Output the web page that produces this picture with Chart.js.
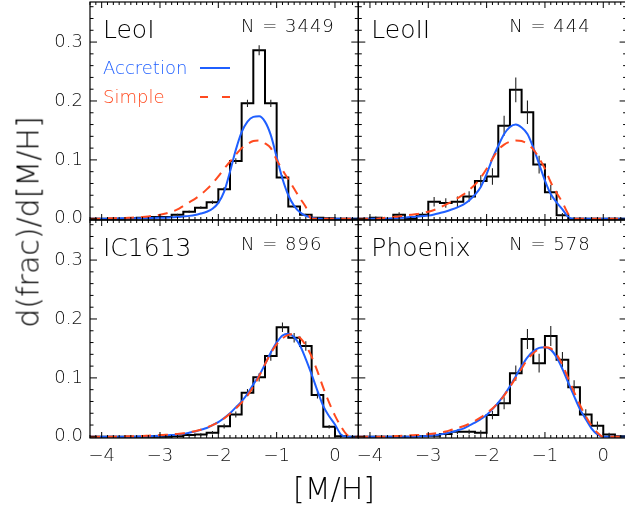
<!DOCTYPE html>
<html>
<head>
<meta charset="utf-8">
<script src="https://cdn.jsdelivr.net/npm/chart.js@4.4.1/dist/chart.umd.min.js"></script>
<style>
  html, body { margin: 0; padding: 0; background: #fff; overflow: hidden; }
  #wrap { position: relative; width: 625px; height: 508px; overflow: hidden; }
  #wrap canvas { position: absolute; left: 0; top: 0; }
  .title { position: absolute; font-family: "DejaVu Sans", sans-serif; font-weight: 200;
           font-size: 30px; color: #000; white-space: nowrap; }
  #ytitle { left: 28px; top: 222px; transform: translate(-50%, -50%) rotate(-90deg); }
  #xtitle { left: 334px; top: 488px; transform: translate(-50%, -50%); }
</style>
</head>
<body>
<div id="wrap">
  <canvas id="c0" width="640" height="508"></canvas>
  <canvas id="c1" width="640" height="508"></canvas>
  <canvas id="c2" width="640" height="508"></canvas>
  <canvas id="c3" width="640" height="508"></canvas>
  <div class="title" id="ytitle">d(frac)/d[M/H]</div>
  <div class="title" id="xtitle">[M/H]</div>
</div>
<script>
// bins (left edges, width 0.2 dex)
const binLo = [-4.2,-4.0,-3.8,-3.6,-3.4,-3.2,-3.0,-2.8,-2.6,-2.4,-2.2,-2.0,-1.8,-1.6,-1.4,-1.2,-1.0,-0.8,-0.6,-0.4,-0.2,0.0,0.2];
const binWidth = 0.2;

const leoIHist = [0,0,0,0.001,0.002,0.003,0.003,0.007,0.012,0.019,0.028,0.050,0.098,0.196,0.286,0.196,0.070,0.021,0.007,0.002,0.001,0,0];
const leoIErr  = [0,0,0,0.001,0.001,0.001,0.001,0.0015,0.002,0.0025,0.003,0.004,0.005,0.006,0.0085,0.006,0.004,0.0025,0.0015,0.001,0.0005,0,0];
const leoIIHist = [0,0.002,0,0.007,0,0.007,0.029,0.027,0.029,0.038,0.064,0.072,0.158,0.219,0.181,0.092,0.045,0.006,0,0,0,0,0];
const leoIIErr  = [0,0.002,0,0.004,0,0.004,0.008,0.008,0.009,0.009,0.010,0.014,0.017,0.021,0.020,0.015,0.013,0.004,0,0,0,0,0];
const ic1613Hist = [0,0,0,0,0,0,0,0.001,0.003,0.004,0.007,0.018,0.038,0.075,0.101,0.137,0.186,0.168,0.154,0.071,0.017,0.001,0];
const ic1613Err  = [0,0,0,0,0,0,0,0.001,0.0015,0.002,0.003,0.004,0.005,0.006,0.007,0.008,0.008,0.008,0.008,0.006,0.003,0.001,0];
const phoenixHist = [0,0,0,0,0,0.001,0.002,0.005,0.0085,0.0085,0.007,0.037,0.057,0.108,0.166,0.125,0.171,0.131,0.084,0.038,0.019,0.004,0.001];
const phoenixErr  = [0,0,0,0,0,0.001,0.002,0.003,0.004,0.004,0.004,0.007,0.010,0.013,0.017,0.016,0.017,0.013,0.012,0.009,0.007,0.003,0.001];

// model curves sampled every 0.1 dex
const modelX = [-4.2,-4.1,-4.0,-3.9,-3.8,-3.7,-3.6,-3.5,-3.4,-3.3,-3.2,-3.1,-3.0,-2.9,-2.8,-2.7,-2.6,-2.5,-2.4,-2.3,-2.2,-2.1,-2.0,-1.9,-1.8,-1.7,-1.6,-1.5,-1.4,-1.3,-1.2,-1.1,-1.0,-0.9,-0.8,-0.7,-0.6,-0.5,-0.4,-0.3,-0.2,-0.1,0.0,0.1,0.2,0.3,0.4];

const leoIAcc = [0,0,0,0,0.0005,0.0007,0.001,0.001,0.001,0.0012,0.0013,0.0015,0.0018,0.002,0.0025,0.003,0.004,0.005,0.0065,0.009,0.012,0.017,0.027,0.046,0.08,0.117,0.147,0.165,0.173,0.174,0.165,0.142,0.105,0.068,0.04,0.022,0.011,0.005,0.002,0.0005,0,0,0,0,0,0,0];
const leoISimple = [0,0,0.0005,0.0008,0.001,0.0012,0.0015,0.002,0.0025,0.003,0.004,0.0055,0.007,0.009,0.012,0.016,0.022,0.028,0.034,0.041,0.05,0.06,0.072,0.085,0.097,0.109,0.12,0.127,0.132,0.133,0.128,0.12,0.1,0.083,0.067,0.051,0.035,0.02,0,0,0,0,0,0,0,0,0];
const leoIIAcc = [0,0,0,0,0,0,0.001,0.0015,0.002,0.003,0.0035,0.0045,0.0056,0.0075,0.01,0.0125,0.0158,0.0195,0.024,0.031,0.041,0.054,0.076,0.102,0.124,0.144,0.156,0.16,0.155,0.144,0.121,0.093,0.065,0.042,0.028,0.016,0.003,0,0,0,0,0,0,0,0,0,0];
const leoIISimple = [0,0,0,0,0.001,0.002,0.003,0.004,0.0056,0.007,0.008,0.01,0.012,0.015,0.019,0.024,0.029,0.035,0.041,0.049,0.058,0.07,0.085,0.102,0.117,0.126,0.131,0.133,0.132,0.127,0.118,0.103,0.085,0.062,0.044,0.028,0.008,0,0,0,0,0,0,0,0,0,0];
const ic1613Acc = [0,0,0,0,0,0,0,0,0.0005,0.0008,0.001,0.0015,0.002,0.0025,0.003,0.004,0.005,0.007,0.009,0.012,0.015,0.02,0.025,0.032,0.04,0.05,0.06,0.073,0.089,0.104,0.123,0.143,0.16,0.172,0.175,0.169,0.155,0.132,0.106,0.078,0.052,0.035,0.021,0.004,0,0,0];
const ic1613Simple = [0,0,0,0,0,0,0.0008,0.001,0.0012,0.0015,0.002,0.0025,0.003,0.0035,0.004,0.005,0.006,0.0078,0.0096,0.012,0.016,0.02,0.025,0.031,0.039,0.048,0.058,0.07,0.085,0.103,0.123,0.142,0.157,0.167,0.173,0.174,0.168,0.155,0.136,0.111,0.083,0.058,0.036,0.018,0.004,0,0];
const phoenixAcc = [0,0,0,0,0,0,0,0,0,0,0.0005,0.001,0.0015,0.0025,0.004,0.006,0.008,0.011,0.014,0.019,0.024,0.03,0.037,0.047,0.058,0.071,0.086,0.103,0.12,0.135,0.145,0.151,0.152,0.148,0.135,0.115,0.092,0.069,0.047,0.03,0.014,0.004,0,0,0,0,0];
const phoenixSimple = [0,0,0,0,0,0,0.001,0.0015,0.002,0.0025,0.003,0.0037,0.0045,0.0055,0.007,0.009,0.012,0.015,0.018,0.022,0.027,0.033,0.04,0.048,0.058,0.07,0.085,0.1,0.116,0.131,0.142,0.149,0.152,0.15,0.14,0.122,0.099,0.076,0.054,0.035,0.019,0.007,0,0,0,0,0];

const xTickVals = [-4, -3, -2, -1, 0];
const yTickVals = [0, 0.1, 0.2, 0.3];

const panels = [
  { name: 'LeoI',    n: '3449', hist: leoIHist,    err: leoIErr,    acc: leoIAcc,    simple: leoISimple,    col: 0, row: 0, legend: true },
  { name: 'LeoII',   n: '444',  hist: leoIIHist,   err: leoIIErr,   acc: leoIIAcc,   simple: leoIISimple,   col: 1, row: 0 },
  { name: 'IC1613',  n: '896',  hist: ic1613Hist,  err: ic1613Err,  acc: ic1613Acc,  simple: ic1613Simple,  col: 0, row: 1 },
  { name: 'Phoenix', n: '578',  hist: phoenixHist, err: phoenixErr, acc: phoenixAcc, simple: phoenixSimple, col: 1, row: 1 }
];

const W = 640, H = 508;
const colLeft = [90, 358.3], panelW = 268.3;
const rowTop = [2, 220], panelH = 218;
const FONT = '"DejaVu Sans", sans-serif';
const BLUE = '#1f5fff';
const RED = '#ff4a1f';

// frame + inward IDL style ticks on all four sides
const frameTicks = {
  id: 'frameTicks',
  afterDatasetsDraw(chart) {
    const { ctx, chartArea: a, scales: { x, y } } = chart;
    ctx.save();
    ctx.strokeStyle = '#000';
    ctx.lineWidth = 1.2;
    ctx.strokeRect(a.left, a.top, a.right - a.left, a.bottom - a.top);
    ctx.lineWidth = 1;
    ctx.beginPath();
    for (let i = -42; i <= 4; i++) {
      const px = x.getPixelForValue(i / 10);
      const len = i % 10 === 0 ? 6 : 3;
      ctx.moveTo(px, a.bottom); ctx.lineTo(px, a.bottom - len);
      ctx.moveTo(px, a.top); ctx.lineTo(px, a.top + len);
    }
    for (let j = 0; j <= 18; j++) {
      const py = y.getPixelForValue(j * 0.02);
      const len = j % 5 === 0 ? 7 : 3.5;
      ctx.moveTo(a.left, py); ctx.lineTo(a.left + len, py);
      ctx.moveTo(a.right, py); ctx.lineTo(a.right - len, py);
    }
    ctx.stroke();
    ctx.restore();
  }
};

const panelText = {
  id: 'panelText',
  afterDraw(chart, args, opts) {
    const { ctx, chartArea: a } = chart;
    ctx.save();
    ctx.textBaseline = 'alphabetic';
    ctx.textAlign = 'left';
    ctx.fillStyle = '#000';
    ctx.font = '200 25px ' + FONT;
    ctx.fillText(opts.name, a.left + 13, a.top + 36);
    ctx.font = '200 18px ' + FONT;
    ctx.letterSpacing = '1px';
    ctx.fillText('N = ' + opts.n, a.left + 151, a.top + 30);
    ctx.letterSpacing = '0px';
    if (opts.legend) {
      ctx.font = '200 18px ' + FONT;
      ctx.fillStyle = BLUE;
      ctx.fillText('Accretion', a.left + 13, a.top + 72);
      ctx.fillStyle = RED;
      ctx.fillText('Simple', a.left + 13, a.top + 101);
      ctx.lineWidth = 2;
      ctx.strokeStyle = BLUE;
      ctx.beginPath(); ctx.moveTo(a.left + 110, a.top + 66); ctx.lineTo(a.left + 140, a.top + 66); ctx.stroke();
      ctx.strokeStyle = RED;
      ctx.setLineDash([8, 14]);
      ctx.beginPath(); ctx.moveTo(a.left + 110, a.top + 95); ctx.lineTo(a.left + 141, a.top + 95); ctx.stroke();
    }
    ctx.restore();
  }
};

function fmtX(v) { return v < 0 ? '\u2212' + Math.abs(v) : String(v); }

panels.forEach((p, k) => {
  const histPts = binLo.map((x, i) => ({ x: x, y: p.hist[i] }));
  histPts.push({ x: binLo[binLo.length - 1] + binWidth, y: p.hist[p.hist.length - 1] });

  const errPts = [];
  binLo.forEach((x, i) => {
    if (p.err[i] > 0) {
      const mid = x + binWidth / 2;
      errPts.push({ x: mid, y: p.hist[i] - p.err[i] }, { x: mid, y: p.hist[i] + p.err[i] }, { x: mid, y: null });
    }
  });

  const left = colLeft[p.col], top = rowTop[p.row];
  const isLeft = p.col === 0, isBottom = p.row === 1;
  // the y scale box fills the margin left of the panel, the x scale box the margin below it
  const yBoxW = isLeft ? left : 0;
  const xBoxH = isBottom ? H - top - panelH : 0;
  const tickFont = { family: FONT, size: 18, weight: 200 };

  new Chart(document.getElementById('c' + k), {
    type: 'line',
    data: {
      datasets: [
        { label: 'Simple', data: modelX.map((x, i) => ({ x, y: p.simple[i] })),
          borderColor: RED, borderWidth: 2, borderDash: [10, 7], cubicInterpolationMode: 'monotone', pointRadius: 0 },
        { label: 'Accretion', data: modelX.map((x, i) => ({ x, y: p.acc[i] })),
          borderColor: BLUE, borderWidth: 2, cubicInterpolationMode: 'monotone', pointRadius: 0 },
        { label: 'err', data: errPts, borderColor: '#222', borderWidth: 1.1, pointRadius: 0, spanGaps: false },
        { label: 'hist', data: histPts, borderColor: '#000', borderWidth: 2, stepped: 'before', pointRadius: 0 }
      ]
    },
    options: {
      responsive: false,
      animation: false,
      layout: { padding: { left: left - yBoxW, right: W - left - panelW, top: top, bottom: H - top - panelH - xBoxH } },
      plugins: {
        legend: { display: false },
        tooltip: { enabled: false },
        panelText: { name: p.name, n: p.n, legend: !!p.legend }
      },
      scales: {
        x: {
          type: 'linear', min: -4.2, max: 0.4,
          grid: { display: false, drawTicks: false }, border: { display: false },
          ticks: { display: isBottom, padding: 8, color: '#111', font: tickFont, autoSkip: false, maxRotation: 0, callback: fmtX },
          afterBuildTicks: s => { s.ticks = xTickVals.map(v => ({ value: v })); },
          afterFit: s => { s.height = xBoxH; s.paddingLeft = 0; s.paddingRight = 0; }
        },
        y: {
          min: -0.002, max: 0.368,
          grid: { display: false, drawTicks: false }, border: { display: false },
          ticks: { display: isLeft, padding: 7, color: '#111', font: tickFont, callback: v => v.toFixed(1) },
          afterBuildTicks: s => { s.ticks = yTickVals.map(v => ({ value: v })); },
          afterFit: s => { s.width = yBoxW; s.paddingTop = 0; s.paddingBottom = 0; }
        }
      }
    },
    plugins: [frameTicks, panelText]
  });
});
</script>
</body>
</html>
